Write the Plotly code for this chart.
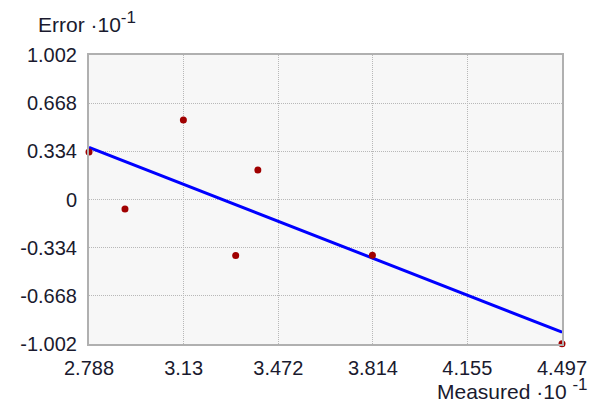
import plotly.graph_objects as go

# Data
measured = [2.788, 2.918, 3.129, 3.318, 3.398, 3.812, 4.497]
error = [0.330, -0.066, 0.551, -0.389, 0.204, -0.387, -1.000]

fit_x = [2.788, 4.497]
fit_y = [0.362, -0.920]

x_ticks = [2.788, 3.13, 3.472, 3.814, 4.155, 4.497]
x_tick_labels = ["2.788", "3.13", "3.472", "3.814", "4.155", "4.497"]
y_ticks = [1.002, 0.668, 0.334, 0, -0.334, -0.668, -1.002]
y_tick_labels = ["1.002", "0.668", "0.334", "0", "-0.334", "-0.668", "-1.002"]

y_title = "Error ·10<sup><span style='font-size:17px'>-1</span></sup>"
x_title = "Measured ·10 <sup><span style='font-size:17px'>-1</span></sup>"

font_family = "Liberation Sans, Arial, sans-serif"
text_color = "#1a1a2e"

fig = go.Figure()
fig.add_trace(go.Scatter(
    x=fit_x, y=fit_y, mode="lines",
    line=dict(color="#0000ff", width=3),
    showlegend=False, hoverinfo="skip", cliponaxis=False,
))
fig.add_trace(go.Scatter(
    x=measured, y=error, mode="markers",
    marker=dict(color="#a00000", size=7),
    showlegend=False, cliponaxis=False,
))

axis_common = dict(
    showgrid=True, gridcolor="#b8b8b8", gridwidth=1, griddash="1px,1px",
    zeroline=False, showline=True, linecolor="#b0b0b0", linewidth=2, mirror=True,
    ticks="", automargin=False,
    tickfont=dict(family=font_family, size=20, color=text_color),
)

fig.update_layout(
    width=582, height=397, autosize=False,
    margin=dict(l=81, r=28, t=47, b=61),
    paper_bgcolor="white", plot_bgcolor="#f7f7f7",
    xaxis=dict(range=[2.788, 4.497], tickvals=x_ticks, ticktext=x_tick_labels,
               ticklabelstandoff=5, **axis_common),
    yaxis=dict(range=[-1.002, 1.002], tickvals=y_ticks, ticktext=y_tick_labels,
               ticklabelstandoff=6, **axis_common),
    annotations=[
        dict(text=y_title, xref="paper", yref="paper",
             x=-0.112, y=1.114, xanchor="left", yanchor="middle", showarrow=False,
             font=dict(family=font_family, size=21, color=text_color)),
        dict(text=x_title, xref="paper", yref="paper",
             x=1.06, y=-0.157, xanchor="right", yanchor="middle", showarrow=False,
             font=dict(family=font_family, size=21, color=text_color)),
    ],
)

fig.write_html("out.html")
